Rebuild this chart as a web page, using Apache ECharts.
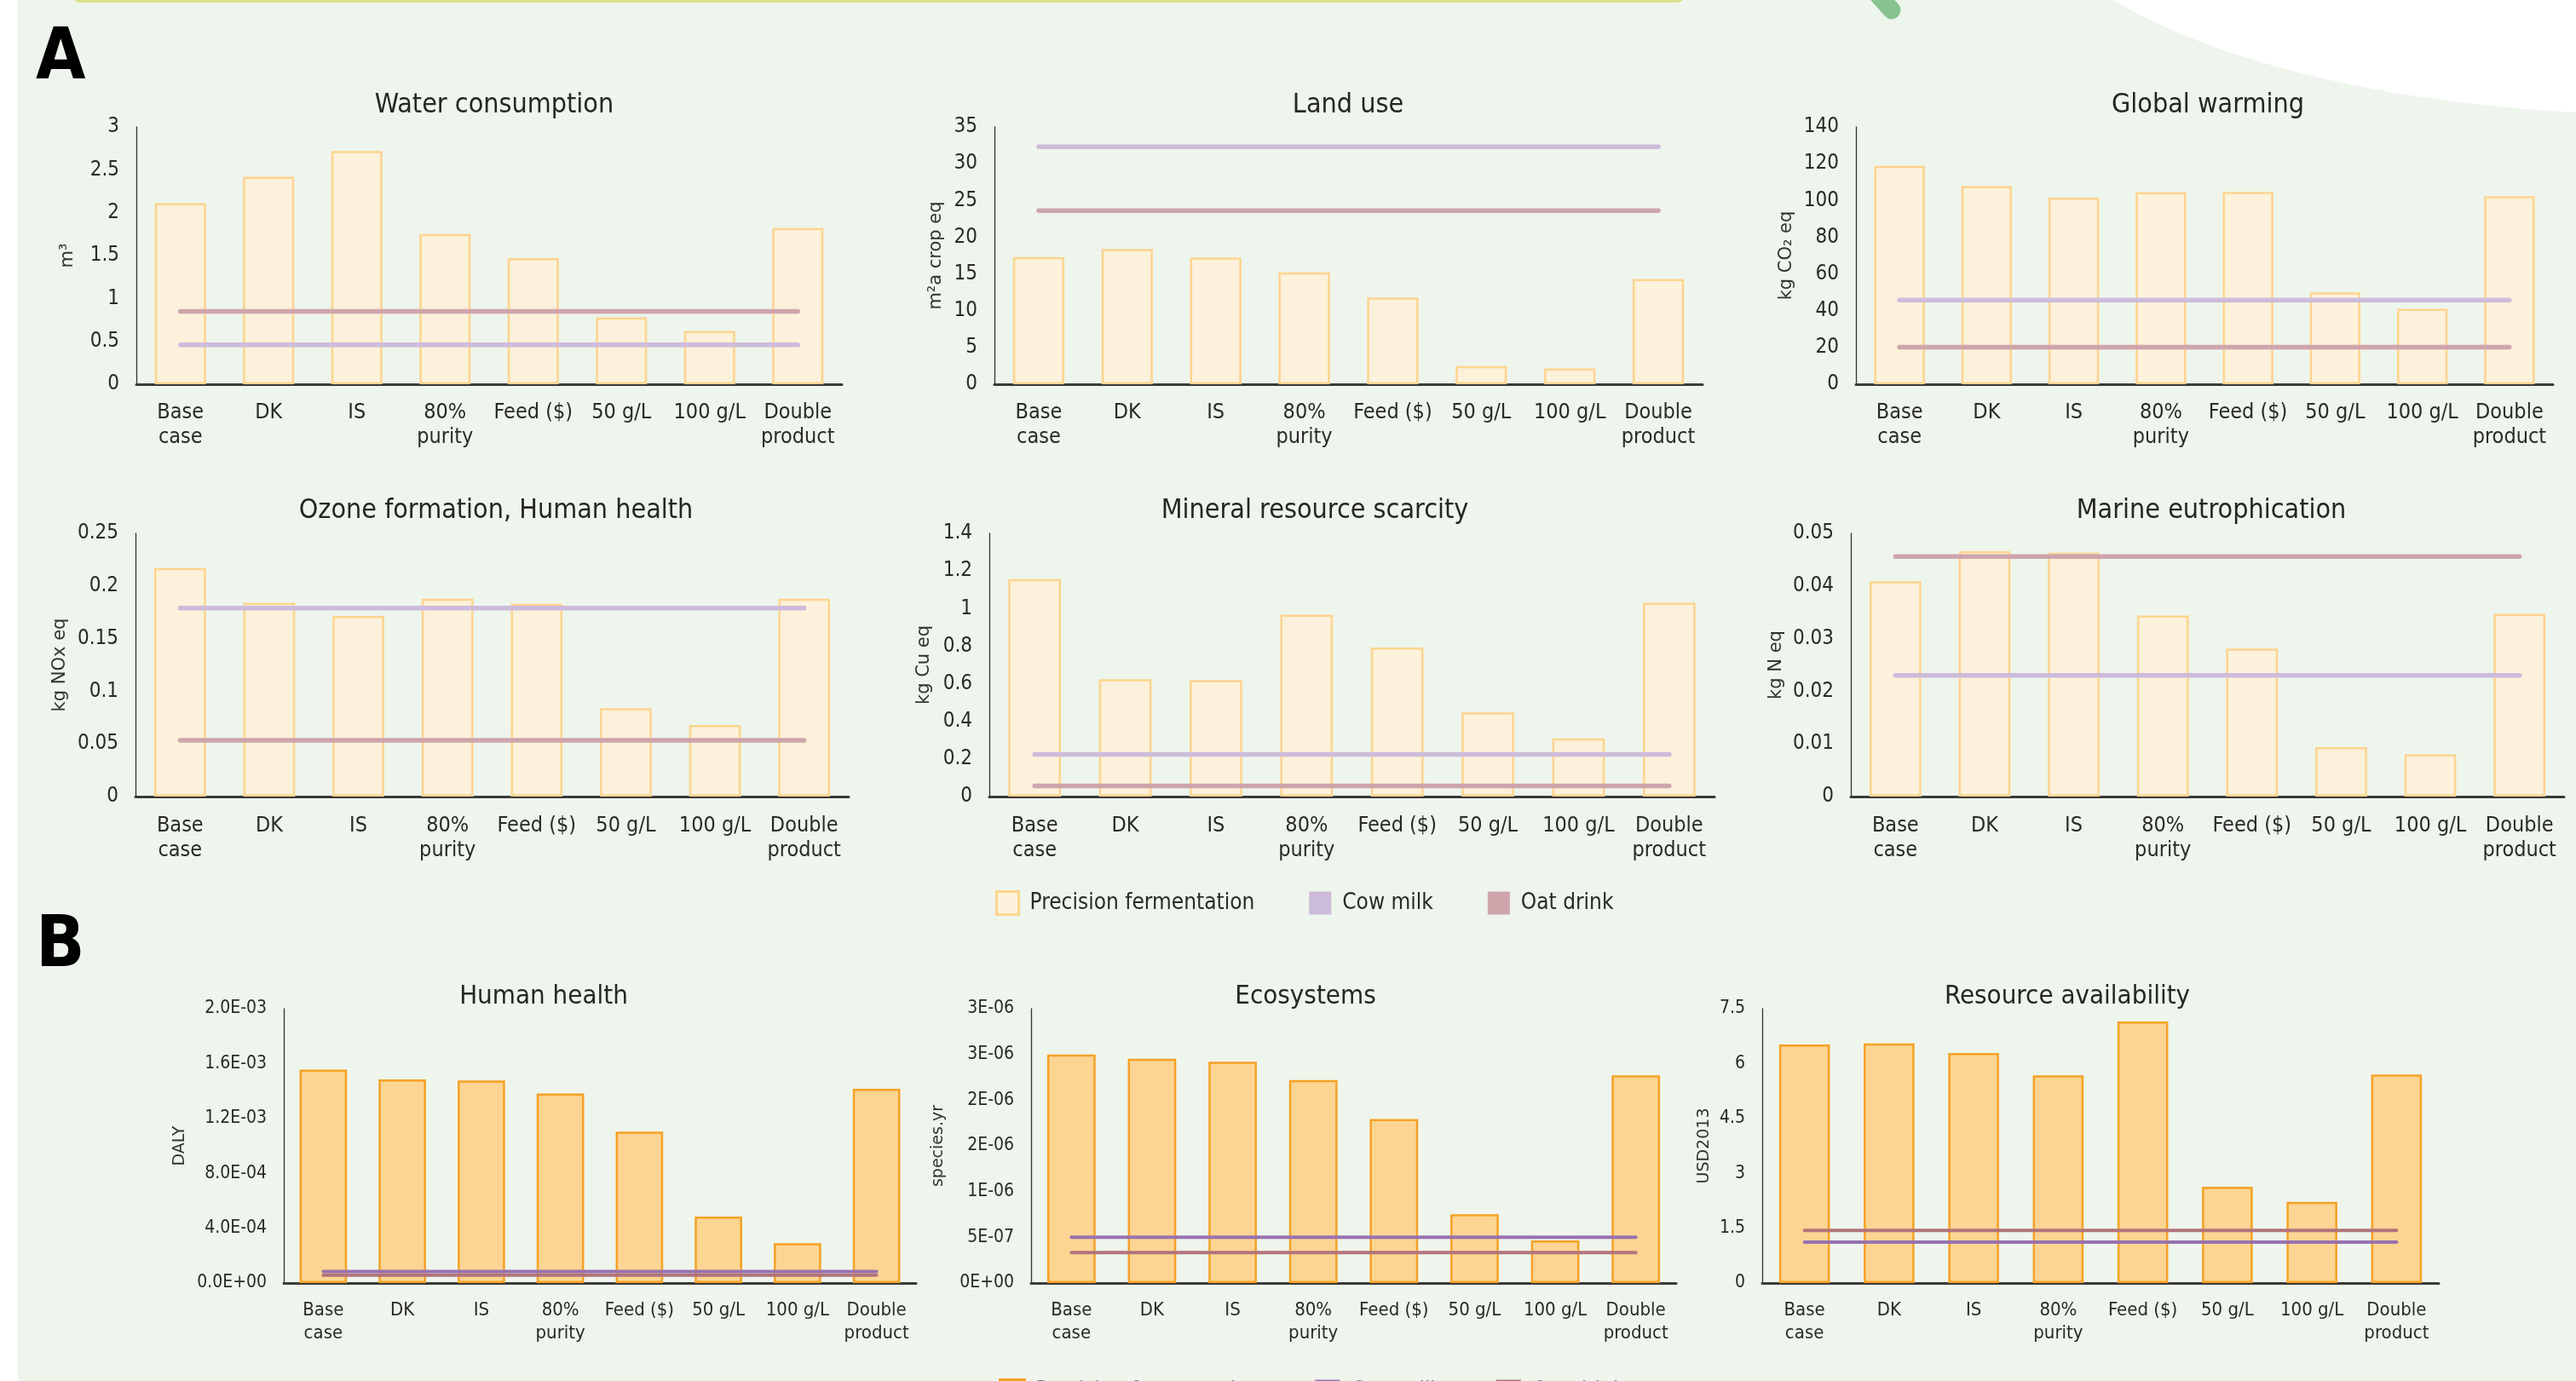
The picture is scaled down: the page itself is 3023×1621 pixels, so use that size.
<!DOCTYPE html>
<html>
<head>
<meta charset="utf-8">
<script src="https://cdn.jsdelivr.net/npm/echarts@6/dist/echarts.min.js"></script>
<style>
html,body{margin:0;padding:0;background:#fff;}
#chart{width:3023px;height:1621px;}
</style>
</head>
<body>
<div id="chart"></div>
<script>
// ---------- DATA ----------
const categories = ['Base\ncase', 'DK', 'IS', '80%\npurity', 'Feed ($)', '50 g/L', '100 g/L', 'Double\nproduct'];

const titles = ['Water consumption', 'Land use', 'Global warming',
  'Ozone formation, Human health', 'Mineral resource scarcity', 'Marine eutrophication',
  'Human health', 'Ecosystems', 'Resource availability'];
const units = ['m³', 'm²a crop eq', 'kg CO₂ eq', 'kg NOx eq', 'kg Cu eq', 'kg N eq', 'DALY', 'species.yr', 'USD2013'];

// Precision fermentation (bars)
const pfWater   = [2.11, 2.42, 2.72, 1.75, 1.47, 0.78, 0.62, 1.82];
const pfLand    = [17.3, 18.4, 17.25, 15.2, 11.8, 2.45, 2.15, 14.3];
const pfWarming = [118.8, 107.8, 101.5, 104.5, 104.7, 49.9, 41.0, 102.3];
const pfOzone   = [0.217, 0.184, 0.1715, 0.188, 0.183, 0.084, 0.068, 0.188];
const pfMineral = [1.157, 0.624, 0.620, 0.967, 0.793, 0.447, 0.309, 1.031];
const pfMarine  = [0.0409, 0.0466, 0.0463, 0.0344, 0.0281, 0.0094, 0.0080, 0.0347];
const pfHuman   = [1.556e-3, 1.484e-3, 1.476e-3, 1.382e-3, 1.104e-3, 4.84e-4, 2.91e-4, 1.416e-3];
const pfEco     = [2.50e-6, 2.453e-6, 2.42e-6, 2.22e-6, 1.793e-6, 7.53e-7, 4.67e-7, 2.27e-6];
const pfRes     = [6.52, 6.55, 6.29, 5.68, 7.15, 2.63, 2.22, 5.70];
const precision = [pfWater, pfLand, pfWarming, pfOzone, pfMineral, pfMarine, pfHuman, pfEco, pfRes];

// Reference products (one value per panel)
const cowMilk  = [0.46, 32.3, 45.8, 0.179, 0.224, 0.0230, 8.4e-5, 5.0e-7, 1.12];
const oatDrink = [0.85, 23.6, 20.2, 0.0533, 0.057, 0.0456, 5.8e-5, 3.33e-7, 1.44];

// Axis scales and tick labels
const axisMax      = [3, 35, 140, 0.25, 1.4, 0.05, 2e-3, 3e-6, 7.5];
const axisInterval = [0.5, 5, 20, 0.05, 0.2, 0.01, 4e-4, 5e-7, 1.5];
const humanTicks = ['0.0E+00', '4.0E-04', '8.0E-04', '1.2E-03', '1.6E-03', '2.0E-03'];
const ecoTicks   = ['0E+00', '5E-07', '1E-06', '2E-06', '2E-06', '3E-06', '3E-06'];
const legendNames = ['Precision fermentation', 'Cow milk', 'Oat drink'];

// ---------- LAYOUT / STYLE ----------
const FONT = '"Liberation Sans Narrow","DejaVu Sans Condensed","Arial Narrow",sans-serif';
const NAMEFONT = '"DejaVu Sans",Verdana,sans-serif';
// [left, top, right, bottom] in px
const boxes = [
  [160, 149, 988, 451], [1167, 149, 1998, 451], [2178, 149, 2996, 451],
  [159, 626, 996, 935], [1161, 626, 2012, 935], [2172, 626, 3009, 935],
  [333, 1184, 1075, 1506], [1210, 1184, 1967, 1506], [2068, 1184, 2862, 1506]
];
const titlePos = [[575, 103], [1577, 103], [2586, 103], [577, 579], [1538, 579], [2590, 579], [633, 1149], [1527, 1149], [2421, 1149]];
const nameGaps = [70, 58, 71, 78, 66, 77, 112, 99, 58];
const catMargins = [19, 19, 19, 20, 20, 20, 19, 19, 19];

const styleA = {bar: '#FCF1DA', barBorder: '#FDD48E', cow: '#CDBBDB', oat: '#CFA5AC', lw: 5.5};
const styleB = {bar: '#FDD593', barBorder: '#F6A125', cow: '#9872B0', oat: '#B2747C', lw: 4};

const grid = [], xAxis = [], yAxis = [], series = [], title = [];
boxes.forEach((b, i) => {
  const isB = i >= 6;
  const st = isB ? styleB : styleA;
  grid.push({left: b[0], top: b[1], width: b[2] - b[0], height: b[3] - b[1], containLabel: false, outerBoundsMode: 'none'});
  title.push({text: titles[i], left: titlePos[i][0], top: titlePos[i][1], textAlign: 'center',
    textStyle: {fontFamily: FONT, fontSize: isB ? 31 : 32, fontWeight: 'normal', color: '#262626'}});
  xAxis.push({type: 'category', gridIndex: i, data: categories,
    axisLine: {show: true, lineStyle: {color: '#3a3a3a', width: 3}},
    axisTick: {show: false}, splitLine: {show: false},
    axisLabel: {interval: 0, fontFamily: FONT, fontSize: isB ? 22 : 25, color: '#2a2a2a',
      lineHeight: isB ? 27 : 29, margin: catMargins[i]}});
  let fmt;
  if (i === 6) fmt = v => humanTicks[Math.round(v / axisInterval[6])];
  else if (i === 7) fmt = v => ecoTicks[Math.round(v / axisInterval[7])];
  yAxis.push({type: 'value', gridIndex: i, min: 0, max: axisMax[i], interval: axisInterval[i],
    splitLine: {show: false}, axisTick: {show: false},
    axisLine: {show: true, lineStyle: {color: '#333', width: 1.3}},
    axisLabel: {fontFamily: FONT, fontSize: isB ? 21 : 24, color: '#2a2a2a', margin: 20, formatter: fmt},
    name: units[i], nameLocation: 'middle', nameGap: nameGaps[i], nameRotate: 90,
    nameTextStyle: {fontFamily: NAMEFONT, fontSize: isB ? 19 : 21, color: '#333'}});
  series.push({type: 'bar', name: legendNames[0], xAxisIndex: i, yAxisIndex: i, data: precision[i],
    barCategoryGap: isB ? '40%' : '42%', z: 2,
    itemStyle: {color: st.bar, borderColor: st.barBorder, borderWidth: 2.5}});
  series.push({type: 'line', name: legendNames[1], xAxisIndex: i, yAxisIndex: i,
    data: categories.map(() => cowMilk[i]), symbol: 'none', silent: true, z: 3,
    lineStyle: {color: st.cow, width: st.lw, cap: 'round'}, itemStyle: {color: st.cow}});
  series.push({type: 'line', name: legendNames[2], xAxisIndex: i, yAxisIndex: i,
    data: categories.map(() => oatDrink[i]), symbol: 'none', silent: true, z: 3,
    lineStyle: {color: st.oat, width: st.lw, cap: 'round'}, itemStyle: {color: st.oat}});
});

function legendData(st, pfBorder) {
  return [
    {name: legendNames[0], icon: 'rect', itemStyle: {color: st.bar, borderColor: st.barBorder, borderWidth: pfBorder}},
    {name: legendNames[1], icon: 'rect', itemStyle: {color: st.cow, borderWidth: 0}},
    {name: legendNames[2], icon: 'rect', itemStyle: {color: st.oat, borderWidth: 0}}
  ];
}

// decorative white corner (cubic bezier sampled into a polygon)
const arcPts = [];
(function () {
  const p = [[2480, 0], [2580, 60], [2760, 118], [3023, 132]];
  for (let k = 0; k <= 40; k++) {
    const t = k / 40, u = 1 - t;
    arcPts.push([
      u*u*u*p[0][0] + 3*u*u*t*p[1][0] + 3*u*t*t*p[2][0] + t*t*t*p[3][0],
      u*u*u*p[0][1] + 3*u*u*t*p[1][1] + 3*u*t*t*p[2][1] + t*t*t*p[3][1]
    ]);
  }
  arcPts.push([3023, 0]);
})();

const option = {
  animation: false,
  backgroundColor: '#EEF5EC',
  title: title,
  grid: grid, xAxis: xAxis, yAxis: yAxis, series: series,
  legend: [
    {data: legendData(styleA, 3), left: 1163, top: 1040, itemWidth: 26, itemHeight: 27, itemGap: 64,
      selectedMode: false, textStyle: {fontFamily: FONT, fontSize: 26, color: '#2a2a2a', padding: [0, 0, 0, 8]}},
    {data: legendData(styleB, 3), left: 1167, top: 1613, itemWidth: 29, itemHeight: 27, itemGap: 64,
      selectedMode: false, textStyle: {fontFamily: FONT, fontSize: 26, color: '#777', padding: [0, 0, 0, 8]}}
  ],
  graphic: [
    {type: 'rect', shape: {x: 0, y: 0, width: 21, height: 1621}, style: {fill: '#ffffff'}, silent: true},
    {type: 'polygon', shape: {points: arcPts}, style: {fill: '#ffffff'}, silent: true},
    {type: 'rect', shape: {x: 87, y: -10, width: 1888, height: 13, r: 6}, style: {fill: '#DCE08C'}, silent: true},
    {type: 'line', shape: {x1: 2196, y1: -15, x2: 2220, y2: 12}, style: {stroke: '#86C38E', lineWidth: 21, lineCap: 'round'}, silent: true},
    {type: 'text', x: 42, y: 28, style: {text: 'A', fontFamily: FONT, fontWeight: 'bold', fontSize: 84, fill: '#000'}, silent: true},
    {type: 'text', x: 42, y: 1070, style: {text: 'B', fontFamily: FONT, fontWeight: 'bold', fontSize: 84, fill: '#000'}, silent: true}
  ]
};

const chart = echarts.init(document.getElementById('chart'), null, {renderer: 'canvas'});
chart.setOption(option);
</script>
</body>
</html>
